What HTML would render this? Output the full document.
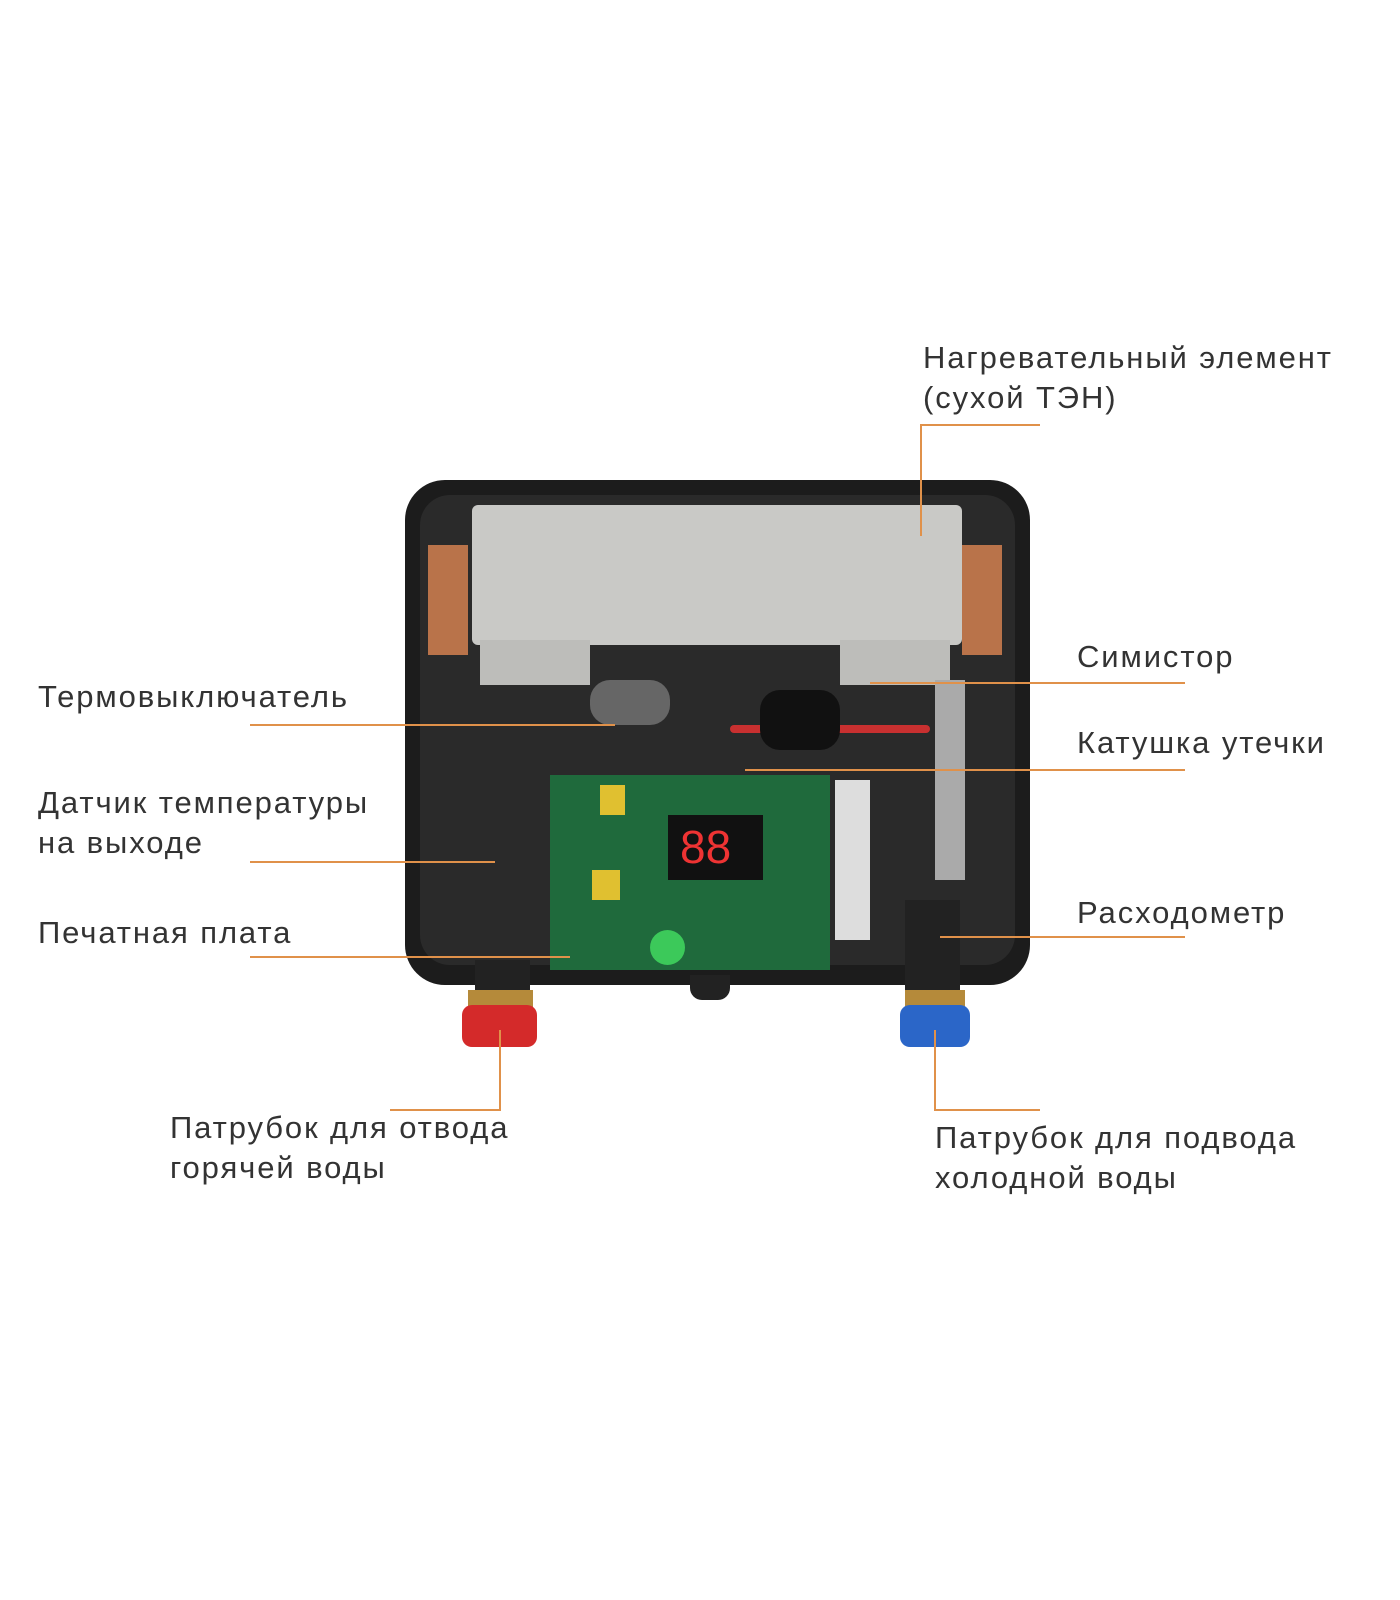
<!DOCTYPE html>
<html><head><meta charset="utf-8"><style>
body{margin:0;width:1400px;height:1600px;background:#fff;position:relative;overflow:hidden;font-family:"Liberation Sans","DejaVu Sans",sans-serif;}
.t{position:absolute;font-size:31px;letter-spacing:1.9px;color:#333;line-height:40px;white-space:nowrap;}
.h{position:absolute;height:2px;background:#e0914a;}
.v{position:absolute;width:2px;background:#e0914a;}
.b{position:absolute;}
</style></head><body>
<div class="b" style="left:405px;top:480px;width:625px;height:505px;background:#1c1c1c;border-radius:40px;"></div>
<div class="b" style="left:420px;top:495px;width:595px;height:470px;background:#2a2a2a;border-radius:30px;"></div>
<div class="b" style="left:472px;top:505px;width:490px;height:140px;background:#c9c9c6;border-radius:6px;"></div>
<div class="b" style="left:480px;top:640px;width:110px;height:45px;background:#bdbdba;"></div>
<div class="b" style="left:840px;top:640px;width:110px;height:45px;background:#bdbdba;"></div>
<div class="b" style="left:428px;top:545px;width:40px;height:110px;background:#b9734a;"></div>
<div class="b" style="left:962px;top:545px;width:40px;height:110px;background:#b9734a;"></div>
<div class="b" style="left:590px;top:680px;width:80px;height:45px;background:#666;border-radius:20px;"></div>
<div class="b" style="left:935px;top:680px;width:30px;height:200px;background:#aaa;"></div>
<div class="b" style="left:730px;top:725px;width:200px;height:8px;background:#c83030;border-radius:4px;"></div>
<div class="b" style="left:760px;top:690px;width:80px;height:60px;background:#111;border-radius:20px;"></div>
<div class="b" style="left:550px;top:775px;width:280px;height:195px;background:#1f6a3c;"></div>
<div class="b" style="left:668px;top:815px;width:95px;height:65px;background:#111;"></div>
<div class="t" style="left:680px;top:822px;color:#e33;font-size:46px;line-height:50px;letter-spacing:0;">88</div>
<div class="b" style="left:650px;top:930px;width:35px;height:35px;background:#3cc95a;border-radius:50%;"></div>
<div class="b" style="left:600px;top:785px;width:25px;height:30px;background:#e0c030;"></div>
<div class="b" style="left:592px;top:870px;width:28px;height:30px;background:#e0c030;"></div>
<div class="b" style="left:835px;top:780px;width:35px;height:160px;background:#ddd;"></div>
<div class="b" style="left:690px;top:975px;width:40px;height:25px;background:#222;border-radius:0 0 12px 12px;"></div>
<div class="b" style="left:475px;top:960px;width:55px;height:40px;background:#222;"></div>
<div class="b" style="left:468px;top:990px;width:65px;height:20px;background:#b58a3a;"></div>
<div class="b" style="left:462px;top:1005px;width:75px;height:42px;background:#d42a2a;border-radius:10px;"></div>
<div class="b" style="left:905px;top:900px;width:55px;height:100px;background:#222;"></div>
<div class="b" style="left:905px;top:990px;width:60px;height:20px;background:#b58a3a;"></div>
<div class="b" style="left:900px;top:1005px;width:70px;height:42px;background:#2b66c8;border-radius:10px;"></div>
<div class="t" style="left:923px;top:338px;">Нагревательный элемент</div>
<div class="t" style="left:923px;top:378px;">(сухой ТЭН)</div>
<div class="h" style="left:920px;top:424px;width:120px;"></div>
<div class="v" style="left:920px;top:424px;height:112px;"></div>
<div class="t" style="left:1077px;top:637px;">Симистор</div>
<div class="h" style="left:870px;top:682px;width:315px;"></div>
<div class="t" style="left:38px;top:677px;">Термовыключатель</div>
<div class="h" style="left:250px;top:724px;width:365px;"></div>
<div class="t" style="left:1077px;top:723px;">Катушка утечки</div>
<div class="h" style="left:745px;top:769px;width:440px;"></div>
<div class="t" style="left:38px;top:783px;">Датчик температуры</div>
<div class="t" style="left:38px;top:823px;">на выходе</div>
<div class="h" style="left:250px;top:861px;width:245px;"></div>
<div class="t" style="left:38px;top:913px;">Печатная плата</div>
<div class="h" style="left:250px;top:956px;width:320px;"></div>
<div class="t" style="left:1077px;top:893px;">Расходометр</div>
<div class="h" style="left:940px;top:936px;width:245px;"></div>
<div class="t" style="left:170px;top:1108px;">Патрубок для отвода</div>
<div class="t" style="left:170px;top:1148px;">горячей воды</div>
<div class="v" style="left:499px;top:1030px;height:81px;"></div>
<div class="h" style="left:390px;top:1109px;width:111px;"></div>
<div class="t" style="left:935px;top:1118px;">Патрубок для подвода</div>
<div class="t" style="left:935px;top:1158px;">холодной воды</div>
<div class="v" style="left:934px;top:1030px;height:81px;"></div>
<div class="h" style="left:934px;top:1109px;width:106px;"></div>
</body></html>
